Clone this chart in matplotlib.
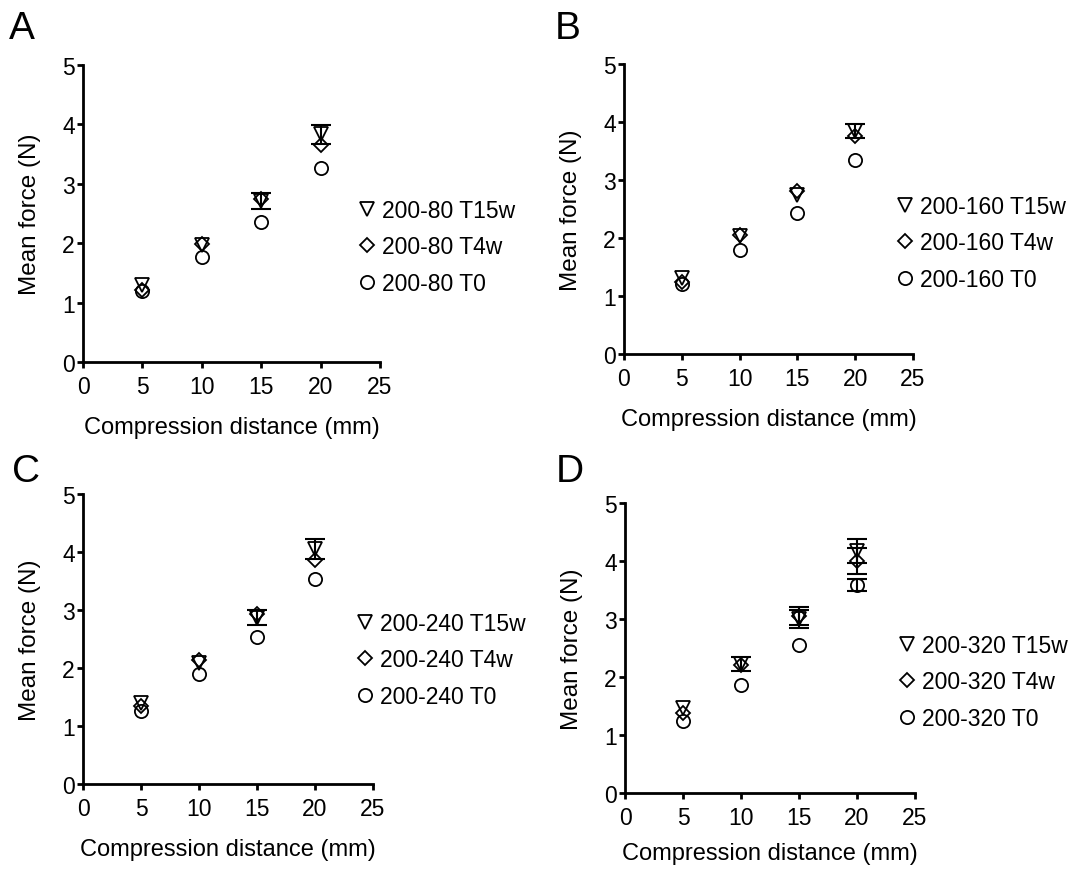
import matplotlib
matplotlib.use("Agg")
import matplotlib.pyplot as plt
from matplotlib.lines import Line2D

plt.rcParams['font.family'] = ['Liberation Sans', 'DejaVu Sans']
plt.rcParams['font.size'] = 17

distance = [5, 10, 15, 20]
x_ticks = [0, 5, 10, 15, 20, 25]
y_ticks = [0, 1, 2, 3, 4, 5]

panel_letters = ["A", "B", "C", "D"]
groups = ["200-80", "200-160", "200-240", "200-320"]

# mean force (N) per panel: T15w, T4w, T0
t15w_mean = [[1.29, 1.97, 2.71, 3.83],
             [1.31, 2.03, 2.75, 3.85],
             [1.39, 2.09, 2.87, 4.05],
             [1.46, 2.23, 3.00, 4.17]]
t15w_err = [[0.04, 0.05, 0.13, 0.16],
            [0.04, 0.05, 0.05, 0.12],
            [0.04, 0.05, 0.13, 0.17],
            [0.05, 0.12, 0.16, 0.21]]
t4w_mean = [[1.22, 1.99, 2.74, 3.65],
            [1.25, 2.05, 2.81, 3.76],
            [1.35, 2.13, 2.93, 3.86],
            [1.38, 2.20, 3.05, 4.00]]
t4w_err = [[0.03, 0.04, 0.05, 0.06],
           [0.03, 0.04, 0.05, 0.06],
           [0.03, 0.04, 0.05, 0.06],
           [0.04, 0.06, 0.15, 0.23]]
t0_mean = [[1.19, 1.76, 2.36, 3.26],
           [1.20, 1.80, 2.43, 3.35],
           [1.26, 1.89, 2.53, 3.53],
           [1.24, 1.87, 2.56, 3.59]]
t0_err = [[0.03, 0.04, 0.04, 0.05],
          [0.03, 0.04, 0.04, 0.05],
          [0.03, 0.04, 0.04, 0.05],
          [0.03, 0.04, 0.05, 0.10]]

# error bars shorter than the symbol are hidden (as in the original figure)
HIDE_BELOW = 0.09

W, H = 1070, 870
fig = plt.figure(figsize=(W / 100, H / 100), dpi=100)

# axes boxes in pixels: left, axis-bottom y, width, height
boxes = [(83, 363, 297, 297), (624, 355, 289, 290),
         (83, 785, 290, 290), (625, 794, 290, 290)]
xlabel_pads = [13, 13, 13, 9]
letter_pos = [(9, 29), (555, 29), (12, 472), (556, 472)]
legend_pos = [(358, 248), (896, 244), (356, 661), (898, 683)]

for i in range(4):
    l, b, w, h = boxes[i]
    ax = fig.add_axes([l / W, (H - b) / H, w / W, h / H])

    series = [(t0_mean[i], t0_err[i], "o", 9.5),
              (t4w_mean[i], t4w_err[i], "D", 7),
              (t15w_mean[i], t15w_err[i], "v", 10)]
    for mean, err, mk, ms in series:
        ex = [x for x, e in zip(distance, err) if e > HIDE_BELOW]
        ey = [m for m, e in zip(mean, err) if e > HIDE_BELOW]
        ee = [e for e in err if e > HIDE_BELOW]
        if ex:
            ax.errorbar(ex, ey, yerr=ee, fmt="none", ecolor="black",
                        elinewidth=1.5, capsize=7, capthick=1.5)
        ax.plot(distance, mean, linestyle="none", marker=mk, markersize=ms,
                markerfacecolor="none", markeredgecolor="black",
                markeredgewidth=1.3)

    ax.set_xlim(0, 25)
    ax.set_ylim(0, 5)
    ax.set_xticks(x_ticks)
    ax.set_yticks(y_ticks)
    for side in ["top", "right"]:
        ax.spines[side].set_visible(False)
    for side in ["left", "bottom"]:
        ax.spines[side].set_linewidth(2.0)
    ax.tick_params(axis="both", direction="out", length=4.5, width=2.0,
                   labelsize=16.5)
    ax.tick_params(axis="y", pad=1.5)
    ax.tick_params(axis="x", pad=5)
    ax.set_xlabel("Compression distance (mm)", fontsize=17,
                  labelpad=xlabel_pads[i])
    ax.set_ylabel("Mean force (N)", fontsize=17.5, labelpad=15)

    handles = [
        Line2D([], [], linestyle="none", marker="v", markersize=10,
               markerfacecolor="none", markeredgecolor="black", markeredgewidth=1.3),
        Line2D([], [], linestyle="none", marker="D", markersize=7,
               markerfacecolor="none", markeredgecolor="black", markeredgewidth=1.3),
        Line2D([], [], linestyle="none", marker="o", markersize=9.5,
               markerfacecolor="none", markeredgecolor="black", markeredgewidth=1.3),
    ]
    labels = [groups[i] + " T15w", groups[i] + " T4w", groups[i] + " T0"]
    lx, ly = legend_pos[i]
    ax.legend(handles, labels, loc="center left",
              bbox_to_anchor=(lx / W, (H - ly) / H),
              bbox_transform=fig.transFigure, frameon=False, borderpad=0,
              borderaxespad=0, handlelength=0.8, handletextpad=0.25,
              labelspacing=0.6, fontsize=16.5)

    tx, ty = letter_pos[i]
    fig.text(tx / W, (H - ty) / H, panel_letters[i], fontsize=28,
             va="center", ha="left")

fig.savefig("out.png", dpi=100)
